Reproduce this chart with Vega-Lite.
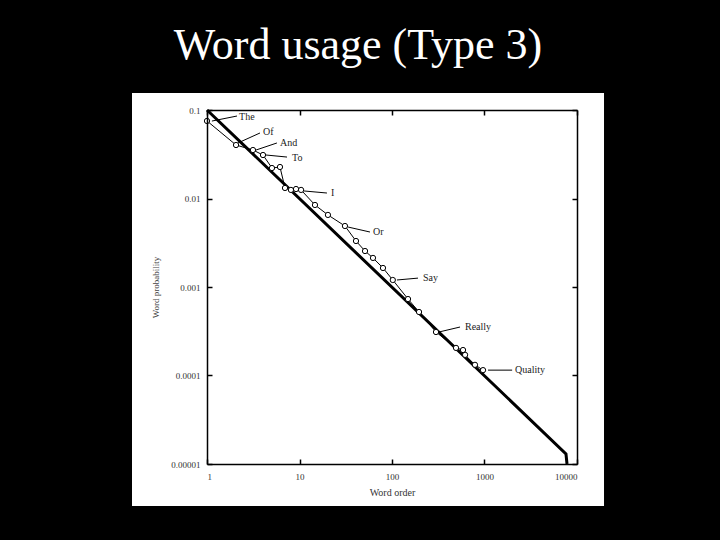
{
  "$schema": "https://vega.github.io/schema/vega-lite/v6.json",
  "width": 370,
  "height": 354,
  "autosize": "none",
  "padding": {"left": 207, "top": 110, "right": 143, "bottom": 76},
  "background": "black",
  "config": {"view": {"stroke": null}, "font": "Liberation Serif"},
  "title": {
    "text": "Word usage (Type 3)",
    "font": "Liberation Serif",
    "fontSize": 44,
    "fontWeight": "normal",
    "color": "white",
    "anchor": "middle",
    "frame": "group",
    "dx": -34,
    "offset": 25
  },
  "datasets": {
    "zipf": [
      {"r": 1, "p": 0.1},
      {"r": 7600, "p": 0.000013},
      {"r": 7800, "p": 0.00001}
    ],
    "words": [
      {"r": 1, "p": 0.0752},
      {"r": 2.06, "p": 0.0402},
      {"r": 3.14, "p": 0.0353},
      {"r": 4.03, "p": 0.031},
      {"r": 5.04, "p": 0.0221},
      {"r": 6.15, "p": 0.0227},
      {"r": 6.97, "p": 0.01315},
      {"r": 8.08, "p": 0.0125},
      {"r": 9.17, "p": 0.0128},
      {"r": 10.4, "p": 0.0125},
      {"r": 14.7, "p": 0.00845},
      {"r": 20.3, "p": 0.00652},
      {"r": 31.0, "p": 0.00489},
      {"r": 40.8, "p": 0.00331},
      {"r": 51.1, "p": 0.00255},
      {"r": 62.3, "p": 0.00213},
      {"r": 79.9, "p": 0.00164},
      {"r": 102, "p": 0.0012},
      {"r": 149, "p": 0.000731},
      {"r": 196, "p": 0.000522},
      {"r": 299, "p": 0.00031},
      {"r": 492, "p": 0.000205},
      {"r": 586, "p": 0.000194},
      {"r": 617, "p": 0.000171},
      {"r": 789, "p": 0.000132},
      {"r": 964, "p": 0.000115}
    ],
    "labels": [
      {"word": "The", "r": 2.22, "p": 0.0833, "x": 1.13, "y": 0.075, "x2": 2.11, "y2": 0.0855},
      {"word": "Of", "r": 4.03, "p": 0.0564, "x": 2.16, "y": 0.0424, "x2": 3.74, "y2": 0.055},
      {"word": "And", "r": 6.15, "p": 0.0424, "x": 3.39, "y": 0.0353, "x2": 5.7, "y2": 0.0424},
      {"word": "To", "r": 8.3, "p": 0.0287, "x": 4.34, "y": 0.031, "x2": 7.33, "y2": 0.0294},
      {"word": "I", "r": 21.9, "p": 0.01153, "x": 11.2, "y": 0.01216, "x2": 19.8, "y2": 0.01153},
      {"word": "Or", "r": 62.3, "p": 0.00418, "x": 33.5, "y": 0.00476, "x2": 57.8, "y2": 0.00418},
      {"word": "Say", "r": 216, "p": 0.00126, "x": 113, "y": 0.0012, "x2": 191, "y2": 0.00126},
      {"word": "Really", "r": 615, "p": 0.000353, "x": 322, "y": 0.00031, "x2": 544, "y2": 0.000353},
      {"word": "Quality", "r": 2137, "p": 0.000115, "x": 1092, "y": 0.000115, "x2": 1990, "y2": 0.000115}
    ]
  },
  "layer": [
    {
      "data": {"values": [{}]},
      "mark": {"type": "rect", "fill": "white"},
      "encoding": {
        "x": {"datum": 0.1546, "type": "quantitative", "scale": {"type": "log", "domain": [1, 10000], "nice": false}, "axis": null},
        "x2": {"datum": 19590},
        "y": {"datum": 0.1556, "type": "quantitative", "scale": {"type": "log", "domain": [0.00001, 0.1], "nice": false}, "axis": null},
        "y2": {"datum": 0.00000335}
      }
    },
    {
      "data": {"name": "zipf"},
      "mark": {"type": "line", "color": "black", "strokeWidth": 3},
      "encoding": {
        "x": {"field": "r", "type": "quantitative", "scale": {"type": "log", "domain": [1, 10000], "nice": false},
          "axis": {"orient": "bottom", "values": [1, 10, 100, 1000, 10000], "format": "d", "title": "Word order",
            "grid": false, "zindex": 1, "domainColor": "black", "domainWidth": 1.5, "tickColor": "black", "tickSize": -5, "tickWidth": 1.5,
            "labelFont": "Liberation Serif", "labelFontSize": 9, "labelColor": "#333", "labelPadding": 13,
            "titleFont": "Liberation Serif", "titleFontSize": 10, "titleFontWeight": "normal", "titleColor": "#333", "titlePadding": 6}},
        "y": {"field": "p", "type": "quantitative", "scale": {"type": "log", "domain": [0.00001, 0.1], "nice": false},
          "axis": {"orient": "left", "values": [0.1, 0.01, 0.001, 0.0001, 0.00001], "format": "~f", "title": "Word probability",
            "grid": false, "zindex": 1, "domainColor": "black", "domainWidth": 1.5, "tickColor": "black", "tickSize": -5, "tickWidth": 1.5,
            "labelFont": "Liberation Serif", "labelFontSize": 9, "labelColor": "#333", "labelPadding": 12,
            "titleFont": "Liberation Serif", "titleFontSize": 9, "titleFontWeight": "normal", "titleColor": "#444", "titlePadding": 10}}
      }
    },
    {
      "data": {"name": "words"},
      "mark": {"type": "line", "color": "black", "strokeWidth": 1},
      "encoding": {
        "x": {"field": "r", "type": "quantitative", "axis": null},
        "y": {"field": "p", "type": "quantitative", "axis": null}
      }
    },
    {
      "data": {"name": "words"},
      "mark": {"type": "point", "shape": "circle", "filled": true, "fill": "white", "stroke": "black", "strokeWidth": 1, "size": 28, "opacity": 1},
      "encoding": {
        "x": {"field": "r", "type": "quantitative",
          "axis": {"orient": "top", "values": [1, 10, 100, 1000, 10000], "labels": false, "title": null, "grid": false, "zindex": 1,
            "domainColor": "black", "domainWidth": 1.5, "tickColor": "black", "tickSize": -5, "tickWidth": 1.5}},
        "y": {"field": "p", "type": "quantitative",
          "axis": {"orient": "right", "values": [0.1, 0.01, 0.001, 0.0001, 0.00001], "labels": false, "title": null, "grid": false, "zindex": 1,
            "domainColor": "black", "domainWidth": 1.5, "tickColor": "black", "tickSize": -5, "tickWidth": 1.5}}
      }
    },
    {
      "data": {"name": "labels"},
      "mark": {"type": "rule", "color": "black", "strokeWidth": 1},
      "encoding": {
        "x": {"field": "x", "type": "quantitative", "axis": null},
        "x2": {"field": "x2"},
        "y": {"field": "y", "type": "quantitative", "axis": null},
        "y2": {"field": "y2"}
      }
    },
    {
      "data": {"name": "labels"},
      "mark": {"type": "text", "align": "left", "baseline": "middle", "font": "Liberation Serif", "fontSize": 10, "color": "#222"},
      "encoding": {
        "x": {"field": "r", "type": "quantitative", "axis": null},
        "y": {"field": "p", "type": "quantitative", "axis": null},
        "text": {"field": "word"}
      }
    }
  ],
  "resolve": {"axis": {"x": "independent", "y": "independent"}}
}
